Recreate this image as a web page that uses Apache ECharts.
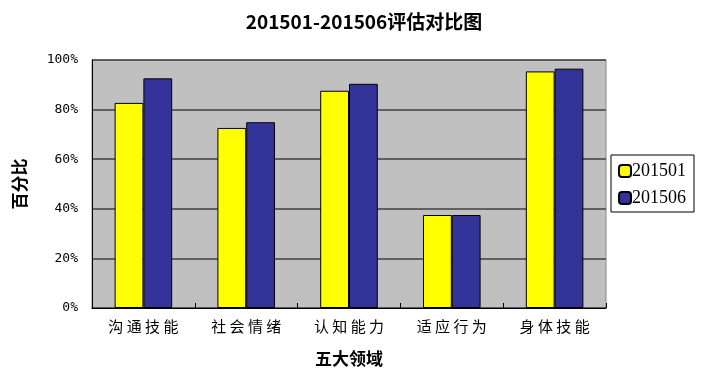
<!DOCTYPE html>
<html><head><meta charset="utf-8">
<script src="https://cdn.jsdelivr.net/npm/echarts@6/dist/echarts.min.js"></script>
<style>html,body{margin:0;padding:0;background:#fff}#c{width:728px;height:381px}</style>
</head><body><div id="c"></div>
<script>
var categories = ['沟通技能','社会情绪','认知能力','适应行为','身体技能'];
var s201501 = [82.7, 72.6, 87.6, 37.5, 95.4];
var s201506 = [92.6, 74.9, 90.4, 37.5, 96.5];
var seriesNames = ['201501','201506'];
var yTicks = [0,20,40,60,80,100];

var chart = echarts.init(document.getElementById('c'));
chart.setOption({
  animation:false,
  backgroundColor:'#fff',
  title:{text:'201501-201506评估对比图',left:'center',top:7,
    textStyle:{fontSize:19,fontWeight:'bold',color:'#000',fontFamily:'"Noto Sans CJK SC"'}},
  legend:{orient:'vertical',left:611,top:155,width:106,height:58,
    padding:[7,8,5,7],itemGap:9,itemWidth:12,itemHeight:12,
    borderColor:'#000',borderWidth:1,
    data:seriesNames,
    textStyle:{fontSize:18,color:'#000',fontFamily:'"Liberation Serif"',padding:[0,0,0,-4]}},
  grid:{left:92,right:122,top:60,bottom:73,show:true,backgroundColor:'#c0c0c0',borderColor:'#888',borderWidth:1},
  xAxis:{type:'category',data:categories,
    name:'五大领域',nameLocation:'middle',nameGap:42,
    nameTextStyle:{fontSize:17,fontWeight:'bold',color:'#000',fontFamily:'"Noto Sans CJK SC"'},
    axisLine:{lineStyle:{color:'#000',width:1}},
    axisTick:{show:true,inside:true,length:5,lineStyle:{color:'#000'}},
    axisLabel:{fontSize:15,color:'#000',margin:11,fontFamily:'"Noto Sans CJK SC"',
      formatter:function(v){return v.split('').join(' ');}}},
  yAxis:{type:'value',min:0,max:100,interval:20,
    name:'百分比',nameLocation:'middle',nameGap:64,nameRotate:90,
    nameTextStyle:{fontSize:17,fontWeight:'bold',color:'#000',fontFamily:'"Noto Sans CJK SC"'},
    axisLine:{show:true,lineStyle:{color:'#000',width:1}},
    axisTick:{show:false},
    splitLine:{show:true,lineStyle:{color:'#404040',width:1.5}},
    axisLabel:{fontSize:13,color:'#000',margin:14,fontFamily:'"DejaVu Sans Mono"',
      formatter:function(v){return yTicks.indexOf(v)>=0? v+'%':'';}}},
  series:[
    {name:seriesNames[0],type:'bar',data:s201501,barGap:'0%',barCategoryGap:'44%',
     itemStyle:{color:'#ffff00',borderColor:'#000',borderWidth:1}},
    {name:seriesNames[1],type:'bar',data:s201506,
     itemStyle:{color:'#333399',borderColor:'#000',borderWidth:1}}
  ]
});
</script></body></html>
